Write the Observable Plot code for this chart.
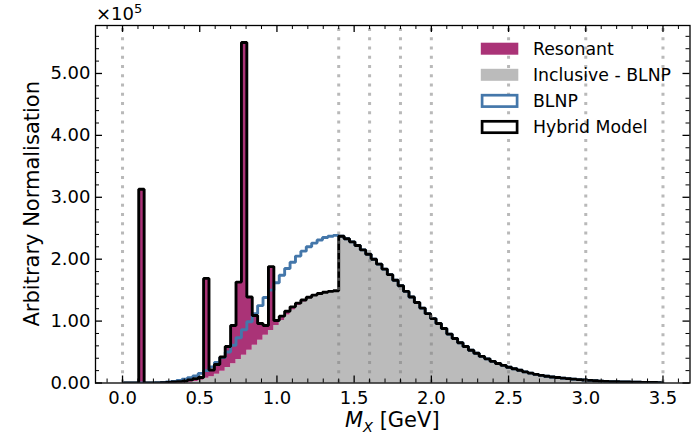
<!DOCTYPE html>
<html><head><meta charset="utf-8">
<script src="https://cdn.jsdelivr.net/npm/d3@7"></script>
<script src="https://cdn.jsdelivr.net/npm/@observablehq/plot@0.6"></script>
<style>
html,body{margin:0;padding:0;background:#fff;}
#chart{width:694px;height:434px;}
</style></head><body><div id="chart"></div>
<script>
// ---- Data (values in units of 1e5), 100 bins of width 0.035 GeV from 0 to 3.5 ----
const binWidth = 0.035;
const nBins = 100;

const resonant = [
  0, 0, 0, 3.13, 0, 0, 0, 0.005, 0.01, 0.015,
  0.017, 0.024, 0.038, 0.045, 0.045, 1.615, 0.11, 0.16, 0.23, 0.34,
  0.62, 1.25, 5.05, 0.86, 0.48, 0.27, 0.16, 1.03, 0.08, 0.07,
  0.06, 0.05, 0.04, 0.03, 0.025, 0.02, 0.015, 0.01, 0.01, 0.01,
  0, 0, 0, 0, 0, 0, 0, 0, 0, 0,
  0, 0, 0, 0, 0, 0, 0, 0, 0, 0,
  0, 0, 0, 0, 0, 0, 0, 0, 0, 0,
  0, 0, 0, 0, 0, 0, 0, 0, 0, 0,
  0, 0, 0, 0, 0, 0, 0, 0, 0, 0,
  0, 0, 0, 0, 0, 0, 0, 0, 0, 0
];

const inclusive = [
  0, 0, 0, 0, 0, 0, 0, 0, 0, 0,
  0.003, 0.006, 0.012, 0.025, 0.045, 0.075, 0.10, 0.14, 0.19, 0.25,
  0.31, 0.38, 0.45, 0.53, 0.61, 0.69, 0.77, 0.85, 0.93, 1.01,
  1.10, 1.18, 1.25, 1.31, 1.36, 1.40, 1.43, 1.455, 1.47, 1.48,
  2.37, 2.33, 2.28, 2.22, 2.15, 2.08, 2.00, 1.92, 1.84, 1.75,
  1.66, 1.57, 1.48, 1.39, 1.30, 1.21, 1.12, 1.04, 0.96, 0.88,
  0.79, 0.72, 0.65, 0.59, 0.53, 0.48, 0.43, 0.39, 0.35, 0.315,
  0.285, 0.255, 0.23, 0.205, 0.18, 0.16, 0.14, 0.123, 0.108, 0.097,
  0.088, 0.079, 0.07, 0.062, 0.055, 0.048, 0.042, 0.036, 0.031, 0.027,
  0.023, 0.02, 0.017, 0.015, 0.013, 0.011, 0.009, 0.008, 0.007, 0.006
];

const blnp = [
  0, 0, 0, 0, 0, 0, 0.005, 0.01, 0.018, 0.027,
  0.04, 0.06, 0.085, 0.115, 0.155, 0.20, 0.26, 0.33, 0.41, 0.50,
  0.61, 0.73, 0.86, 0.99, 1.12, 1.25, 1.38, 1.50, 1.62, 1.74,
  1.85, 1.95, 2.05, 2.13, 2.20, 2.26, 2.31, 2.35, 2.37, 2.385,
  2.37, 2.33, 2.28, 2.22, 2.15, 2.08, 2.00, 1.92, 1.84, 1.75,
  1.66, 1.57, 1.48, 1.39, 1.30, 1.21, 1.12, 1.04, 0.96, 0.88,
  0.79, 0.72, 0.65, 0.59, 0.53, 0.48, 0.43, 0.39, 0.35, 0.315,
  0.285, 0.255, 0.23, 0.205, 0.18, 0.16, 0.14, 0.123, 0.108, 0.097,
  0.088, 0.079, 0.07, 0.062, 0.055, 0.048, 0.042, 0.036, 0.031, 0.027,
  0.023, 0.02, 0.017, 0.015, 0.013, 0.011, 0.009, 0.008, 0.007, 0.006
];

const gridX = [0.0, 1.4, 1.6, 1.8, 2.0, 2.5, 3.0, 3.5];
const xMajor = [0.0, 0.5, 1.0, 1.5, 2.0, 2.5, 3.0, 3.5];
const xMinor = [-0.1, 0.1, 0.2, 0.3, 0.4, 0.6, 0.7, 0.8, 0.9, 1.1, 1.2, 1.3, 1.4, 1.6, 1.7, 1.8, 1.9,
  2.1, 2.2, 2.3, 2.4, 2.6, 2.7, 2.8, 2.9, 3.1, 3.2, 3.3, 3.4, 3.6];
const yMajor = [0, 1, 2, 3, 4, 5];
const yMinor = [0.2, 0.4, 0.6, 0.8, 1.2, 1.4, 1.6, 1.8, 2.2, 2.4, 2.6, 2.8, 3.2, 3.4, 3.6, 3.8,
  4.2, 4.4, 4.6, 4.8, 5.2, 5.4, 5.6];
const legendLabels = ["Resonant", "Inclusive - BLNP", "BLNP", "Hybrid Model"];

// ---- Layout / style ----
const W = 694, H = 434;
const mL = 95, mR = 4.5, mT = 25, mB = 51.5;
const frameW = W - mL - mR, frameH = H - mT - mB;
const xDomain = [-0.175, 3.675];
const yMax = 5.775;
const font = "'DejaVu Sans', sans-serif";
const cRes = "#AA3377", cInc = "#BBBBBB", cBlnp = "#4477AA", cHyb = "#000000";

// bin rows (left edge of each bin, plus closing edge)
const edges = d3.range(nBins + 1).map(i => +(i * binWidth).toFixed(4));
const rows = edges.map((x, k) => {
  const i = Math.min(k, nBins - 1);
  return {x, inc: inclusive[i], hyb: inclusive[i] + resonant[i], blnp: blnp[i]};
});
// step outlines: start at baseline, close at baseline
function outline(key) {
  return [{x: edges[0], y: 0}, ...rows.map(r => ({x: r.x, y: r[key]})), {x: edges[nBins], y: 0}];
}

const plot = Plot.plot({
  width: W, height: H,
  marginLeft: mL, marginRight: mR, marginTop: mT, marginBottom: mB,
  x: {domain: xDomain},
  y: {domain: [0, yMax]},
  style: {fontFamily: font, fontSize: "18px", color: "black", background: "white", overflow: "visible"},
  marks: [
    Plot.areaY(rows, {x: "x", y1: 0, y2: "inc", curve: "step-after", fill: cInc}),
    Plot.areaY(rows, {x: "x", y1: "inc", y2: "hyb", curve: "step-after", fill: cRes}),
    Plot.line(outline("blnp"), {x: "x", y: "y", curve: "step-after", stroke: cBlnp, strokeWidth: 2.9,
      strokeLinejoin: "miter", strokeLinecap: "butt", clip: true}),
    Plot.line(outline("hyb"), {x: "x", y: "y", curve: "step-after", stroke: cHyb, strokeWidth: 2.9,
      strokeLinejoin: "miter", strokeLinecap: "butt", clip: true}),
    Plot.ruleX(gridX, {x: d => d, y1: 0, y2: yMax, stroke: "#808080", strokeOpacity: 0.55,
      strokeWidth: 3, strokeDasharray: "3,6.25"}),
    Plot.frame({stroke: "black", strokeWidth: 1.3}),
    // inward ticks on all four sides
    Plot.tickX(xMajor, {x: d => d, insetTop: frameH - 7, stroke: "black", strokeWidth: 1.3}),
    Plot.tickX(xMajor, {x: d => d, insetBottom: frameH - 7, stroke: "black", strokeWidth: 1.3}),
    Plot.tickX(xMinor, {x: d => d, insetTop: frameH - 4, stroke: "black", strokeWidth: 1}),
    Plot.tickX(xMinor, {x: d => d, insetBottom: frameH - 4, stroke: "black", strokeWidth: 1}),
    Plot.tickY(yMajor, {y: d => d, insetRight: frameW - 7, stroke: "black", strokeWidth: 1.3}),
    Plot.tickY(yMajor, {y: d => d, insetLeft: frameW - 7, stroke: "black", strokeWidth: 1.3}),
    Plot.tickY(yMinor, {y: d => d, insetRight: frameW - 4, stroke: "black", strokeWidth: 1}),
    Plot.tickY(yMinor, {y: d => d, insetLeft: frameW - 4, stroke: "black", strokeWidth: 1}),
    Plot.axisX(xMajor, {anchor: "bottom", tickSize: 0, tickPadding: 8, tickFormat: d3.format(".1f"), label: null}),
    Plot.axisY(yMajor, {anchor: "left", tickSize: 0, tickPadding: 5, tickFormat: d3.format(".2f"), label: null})
  ]
});

document.getElementById("chart").appendChild(plot);

// ---- Annotations: offset text, axis labels, legend ----
const svg = d3.select(plot);
const g = svg.append("g").attr("font-family", font).attr("fill", "black").attr("text-anchor", "start");

const off = g.append("text").attr("x", 96).attr("y", 20).attr("font-size", 18).attr("text-anchor", "start");
off.append("tspan").text("×10");
off.append("tspan").attr("font-size", 13).attr("dy", -7).text("5");

const xl = g.append("text").attr("x", mL + frameW / 2).attr("y", 427)
  .attr("text-anchor", "middle").attr("font-size", 21);
xl.append("tspan").attr("font-style", "italic").text("M");
xl.append("tspan").attr("font-style", "italic").attr("font-size", 14.5).attr("dy", 5).text("X");
xl.append("tspan").attr("dy", -5).text(" [GeV]");

g.append("text").attr("transform", `translate(39,${mT + frameH / 2}) rotate(-90)`)
  .attr("text-anchor", "middle").attr("font-size", 21).text("Arbitrary Normalisation");

const legendStyles = [
  {fill: cRes, stroke: "none"},
  {fill: cInc, stroke: "none"},
  {fill: "white", stroke: cBlnp},
  {fill: "white", stroke: cHyb}
];
legendLabels.forEach((lab, i) => {
  const cy = 48.7 + i * 26.1;
  const s = legendStyles[i];
  const outlined = s.stroke !== "none";
  g.append("rect")
    .attr("x", outlined ? 482.1 : 480.8).attr("y", outlined ? cy - 5.7 : cy - 6)
    .attr("width", outlined ? 35 : 37.5).attr("height", outlined ? 11.4 : 12)
    .attr("fill", s.fill).attr("stroke", s.stroke).attr("stroke-width", 2.7);
  g.append("text").attr("x", 533).attr("y", cy + 6.2).attr("font-size", 17.3)
    .attr("text-anchor", "start").text(lab);
});
</script>
</body></html>
